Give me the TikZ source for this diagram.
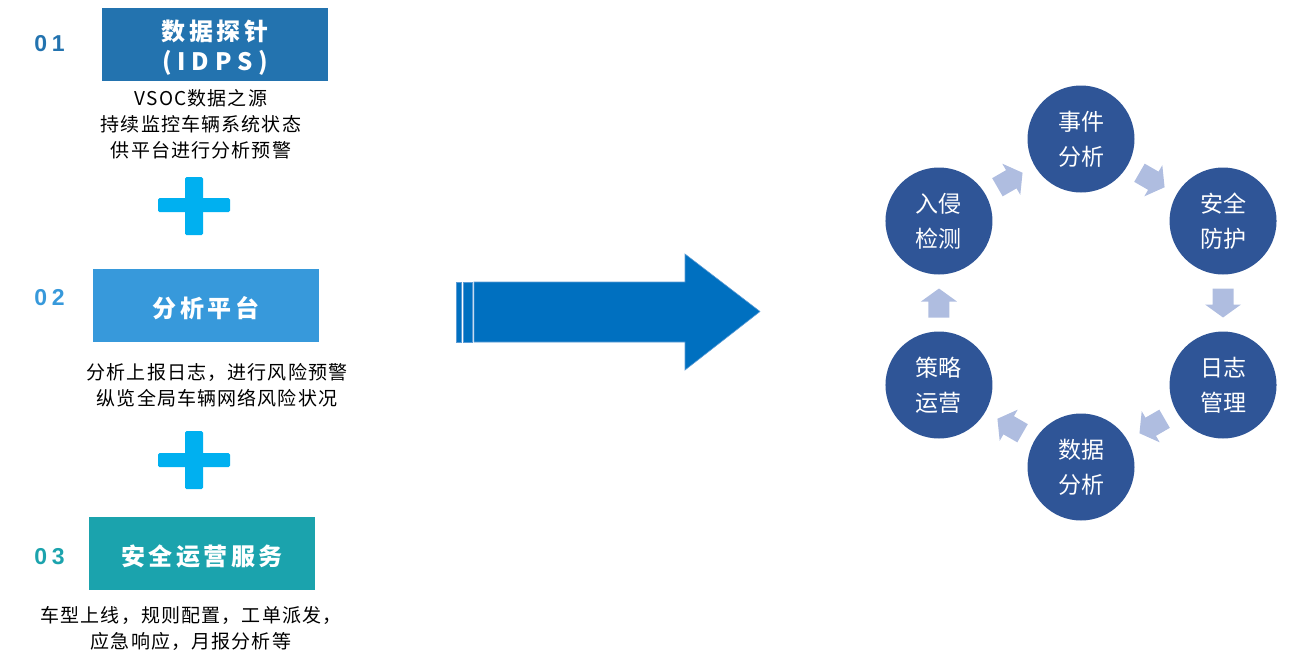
\documentclass[tikz,border=0pt]{standalone}
\usepackage{fontspec}
\setmainfont{Liberation Sans}
\newfontfamily\cjk{Noto Sans CJK SC}
\newfontfamily\cjkwide{Noto Sans CJK SC}[LetterSpace=6]
\newfontfamily\cjktitle{Noto Sans CJK SC}[LetterSpace=15]
\newfontfamily\numfont{Liberation Sans}[LetterSpace=20]
\usetikzlibrary{calc}

\definecolor{boxA}{HTML}{2373AF}
\definecolor{boxB}{HTML}{3799DB}
\definecolor{boxC}{HTML}{1BA3AD}
\definecolor{plusblue}{HTML}{00B0F0}
\definecolor{bigblue}{HTML}{0070C0}
\definecolor{bigedge}{HTML}{5B9BD5}
\definecolor{ringblue}{HTML}{2F5597}
\definecolor{flowlight}{HTML}{AFBDE0}

\begin{document}
\begin{tikzpicture}[x=1pt,y=1pt,
    titlebox/.style={minimum width=226pt,minimum height=73pt,inner sep=0pt},
    titletext/.style={inner sep=0pt,text=white,align=center,
      font=\cjktitle\bfseries\fontsize{24}{30}\selectfont},
    stepnum/.style={font=\numfont\bfseries\fontsize{23}{26}\selectfont},
    desc/.style={inner sep=0pt,align=center,font=\cjkwide\fontsize{19}{26}\selectfont},
    ring/.style={circle,fill=ringblue,minimum size=107pt,inner sep=0pt,
      text=white,align=center,font=\cjk\fontsize{23}{35}\selectfont},
    flow/.style={fill=flowlight},
    plus/.style={fill=plusblue,rounded corners=1.5pt}]
    \useasboundingbox (0,0) rectangle (1315,-657);
    % left column
    \node[stepnum,text=boxA] (n1) at (49.5,-44) {01};
    \node[titlebox,fill=boxA] (probe) at (215,-44) {};
    \node[titletext] (probelbl) at ([yshift=-4pt]probe.center)
    {数据探针\\{\addfontfeature{LetterSpace=24}(IDPS)}};
    \node[desc] (probetxt) at (201,-124)
    {VSOC数据之源\\持续监控车辆系统状态\\供平台进行分析预警};
    \fill[plus] (158,-198) rectangle (230,-212);
    \fill[plus] (185,-177) rectangle (203,-235);

    \node[stepnum,text=boxB] (n2) at (49.5,-298) {02};
    \node[titlebox,fill=boxB] (platform) at (206,-305) {};
    \node[titletext] (platformlbl) at ([yshift=-3pt]platform.center) {分析平台};
    \node[desc] (platformtxt) at (217,-385)
    {分析上报日志，进行风险预警\\纵览全局车辆网络风险状况};
    \fill[plus] (158,-453) rectangle (230,-467);
    \fill[plus] (185,-431) rectangle (203,-489);

    \node[stepnum,text=boxC] (n3) at (49.5,-557) {03};
    \node[titlebox,fill=boxC] (service) at (202,-553) {};
    \node[titletext] (servicelbl) at ([yshift=-3pt]service.center) {安全运营服务};
    \node[desc] (servicetxt) at (191,-628)
    {车型上线，规则配置，工单派发，\\应急响应，月报分析等};

    % big arrow
    \filldraw[fill=bigblue,draw=bigedge,line width=.6pt] (456,-282) rectangle (461,-342);
    \filldraw[fill=bigblue,draw=bigedge,line width=.6pt] (463,-282) rectangle (472,-342);
    \filldraw[fill=bigblue,draw=bigedge,line width=.6pt]
    (474,-282) -- (685,-282) -- (685,-254) -- (760,-311.5)
    -- (685,-370) -- (685,-342) -- (474,-342) -- cycle;

    % cycle
    \coordinate (hub) at (1081,-303);
    \node[ring] (evt) at ($(hub)+(90:164)$) {事件\\分析};
    \node[ring] (sec) at ($(hub)+(30:164)$) {安全\\防护};
    \node[ring] (log) at ($(hub)+(-30:164)$) {日志\\管理};
    \node[ring] (dat) at ($(hub)+(-90:164)$) {数据\\分析};
    \node[ring] (ops) at ($(hub)+(-150:164)$) {策略\\运营};
    \node[ring] (det) at ($(hub)+(150:164)$) {入侵\\检测};
    \foreach \a/\b/\ang in {det/evt/30,evt/sec/-30,sec/log/-90,log/dat/-150,dat/ops/150,ops/det/90}
    \fill[flow,shift={($(\a)!.5!(\b)$)},rotate=\ang]
    (-14.5,-10.5) -- (1.5,-10.5) -- (1.5,-18) -- (14.5,0)
    -- (1.5,18) -- (1.5,10.5) -- (-14.5,10.5) -- cycle;
\end{tikzpicture}
\end{document}
